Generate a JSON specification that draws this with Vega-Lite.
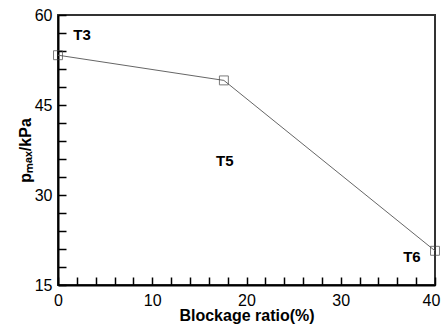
{
  "$schema": "https://vega.github.io/schema/vega-lite/v6.json",
  "autosize": "none",
  "width": 377,
  "height": 270,
  "padding": {"left": 58, "top": 15, "right": 6, "bottom": 41},
  "background": "white",
  "config": {
    "view": {"stroke": "#333", "strokeWidth": 2},
    "font": "Liberation Sans"
  },
  "datasets": {
    "pts": [
      {"ratio": 0, "pmax": 53.3},
      {"ratio": 17.6, "pmax": 49.1},
      {"ratio": 40, "pmax": 20.7}
    ],
    "labels": [
      {"ratio": 2.55, "pmax": 56.6, "name": "T3"},
      {"ratio": 17.7, "pmax": 35.6, "name": "T5"},
      {"ratio": 37.55, "pmax": 19.6, "name": "T6"}
    ]
  },
  "encoding": {
    "x": {
      "field": "ratio", "type": "quantitative",
      "scale": {"domain": [0, 40], "nice": false},
      "axis": {
        "title": "Blockage ratio(%)",
        "titleFontSize": 16, "titleFontWeight": "bold", "titleColor": "#000", "titlePadding": -1,
        "values": [0,2,4,6,8,10,12,14,16,18,20,22,24,26,28,30,32,34,36,38,40],
        "labelExpr": "datum.value % 10 === 0 ? datum.label : ''",
        "labelOverlap": false, "labelBound": false, "labelFlush": false,
        "labelFontSize": 16, "labelColor": "#000", "labelPadding": 15,
        "labelOffset": {"condition": {"test": "datum.value === 40", "value": -4}, "value": 0},
        "domainColor": "#000", "domainWidth": 2,
        "tickColor": "#000", "tickSize": -8, "tickWidth": 1.5,
        "encode": {"ticks": {"update": {"y2": {"signal": "datum.value % 10 === 0 ? -8 : -5"}}}},
        "grid": false
      }
    },
    "y": {
      "field": "pmax", "type": "quantitative",
      "scale": {"domain": [15, 60], "nice": false, "zero": false},
      "axis": {
        "title": "pₘₐₓ/kPa",
        "titleFontSize": 16, "titleFontWeight": "bold", "titleColor": "#000", "titlePadding": 1,
        "values": [15,18,21,24,27,30,33,36,39,42,45,48,51,54,57,60],
        "labelExpr": "datum.value % 15 === 0 ? datum.label : ''",
        "labelOverlap": false, "labelBound": false, "labelFlush": false,
        "labelFontSize": 16, "labelColor": "#000", "labelPadding": 14,
        "domainColor": "#000", "domainWidth": 2,
        "tickColor": "#000", "tickSize": -8, "tickWidth": 1.5,
        "encode": {"ticks": {"update": {"x2": {"signal": "datum.value % 15 === 0 ? 8 : 5"}}}},
        "grid": false
      }
    }
  },
  "layer": [
    {
      "data": {"name": "pts"},
      "mark": {"type": "line", "color": "#666", "strokeWidth": 1}
    },
    {
      "data": {"name": "pts"},
      "mark": {"type": "point", "shape": "square", "size": 80, "filled": false, "stroke": "#444", "strokeWidth": 1}
    },
    {
      "data": {"name": "labels"},
      "mark": {"type": "text", "fontSize": 15, "fontWeight": "bold", "color": "#000"},
      "encoding": {
        "text": {"field": "name"}
      }
    }
  ]
}
